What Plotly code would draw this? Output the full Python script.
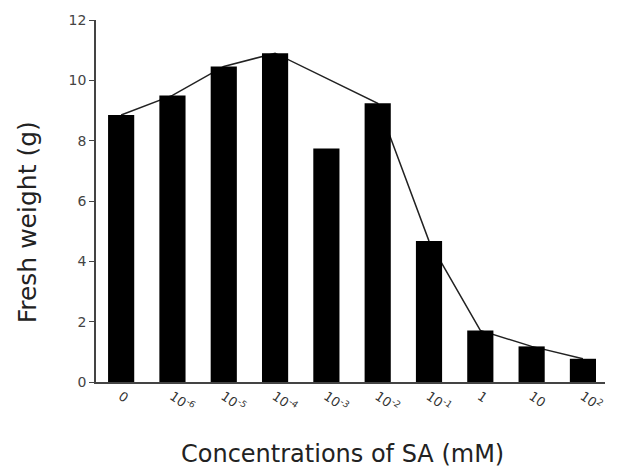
import plotly.graph_objects as go

categories = ["0", "10<sup>-6</sup>", "10<sup>-5</sup>", "10<sup>-4</sup>", "10<sup>-3</sup>",
              "10<sup>-2</sup>", "10<sup>-1</sup>", "1", "10", "10<sup>2</sup>"]
fresh_weight = [8.85, 9.5, 10.46, 10.9, 7.74, 9.24, 4.67, 1.71, 1.18, 0.77]
trend_line = [8.85, 9.5, 10.46, 10.9, None, 9.24, 4.67, 1.71, 1.18, 0.77]
y_ticks = [0, 2, 4, 6, 8, 10, 12]
x_title = "Concentrations of SA (mM)"
y_title = "Fresh weight (g)"

xpos = list(range(len(categories)))
xr = [-0.49, 9.43]
yr = [0, 12]

fig = go.Figure()
fig.add_trace(go.Scatter(x=xpos, y=trend_line, mode="lines", connectgaps=True,
                         line=dict(color="#222222", width=1.5),
                         showlegend=False, hoverinfo="skip", xaxis="x", yaxis="y"))
fig.add_trace(go.Bar(x=xpos, y=fresh_weight, width=0.51,
                     marker=dict(color="black", line=dict(width=0)),
                     showlegend=False, xaxis="x2", yaxis="y2"))

fig.update_layout(
    width=623, height=472,
    margin=dict(l=96, r=18, t=17, b=90),
    paper_bgcolor="white", plot_bgcolor="white",
    font=dict(family="DejaVu Sans, Liberation Sans, sans-serif", color="#333333"),
    xaxis=dict(
        range=xr, tickmode="array", tickvals=xpos, ticktext=categories,
        tickangle=35, tickfont=dict(size=13, color="#333333"),
        showline=True, linecolor="#444444", linewidth=1.5, ticks="",
        showgrid=False, zeroline=False,
    ),
    yaxis=dict(
        range=yr, tickmode="array", tickvals=y_ticks,
        tickfont=dict(size=14, color="#444444"),
        showline=True, linecolor="#444444", linewidth=1.5,
        ticks="outside", ticklen=5, tickcolor="#444444",
        showgrid=False, zeroline=False,
    ),
    xaxis2=dict(range=xr, overlaying="x", visible=False),
    yaxis2=dict(range=yr, overlaying="y", visible=False),
    annotations=[
        dict(text=x_title, xref="paper", yref="paper", x=0.485, y=-0.2,
             xanchor="center", yanchor="middle", showarrow=False,
             font=dict(size=24, color="#222222")),
        dict(text=y_title, xref="paper", yref="paper", x=-0.1356, y=0.441,
             xanchor="center", yanchor="middle", textangle=-90, showarrow=False,
             font=dict(size=25, color="#222222")),
    ],
)

fig.write_html("out.html", config={"displayModeBar": False},
               post_script="document.body.style.margin='0';")
